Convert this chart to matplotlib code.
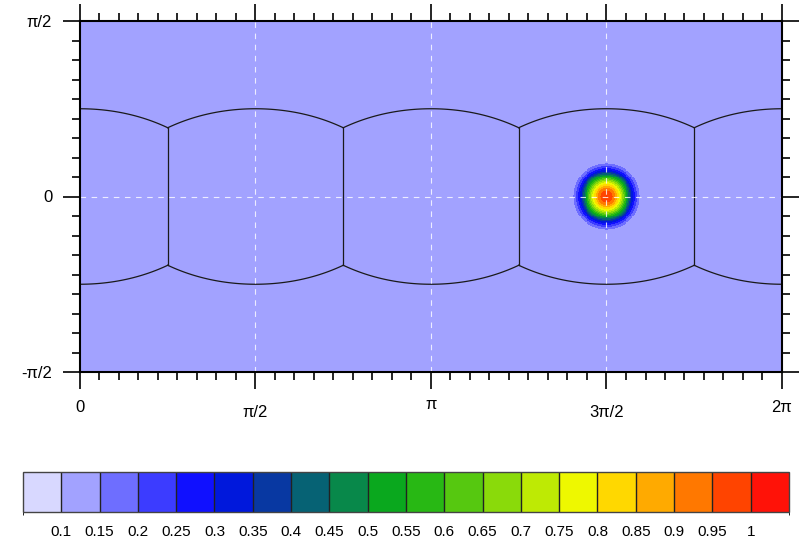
import matplotlib.pyplot as plt
import numpy as np
import matplotlib.transforms as mtransforms
from matplotlib.colors import ListedColormap, BoundaryNorm
from matplotlib.ticker import MultipleLocator

plt.rcParams['font.family'] = ['Liberation Sans', 'DejaVu Sans']

# colour levels and colours (20 bins)
bounds = np.round(np.arange(0.05, 1.051, 0.05), 2)
tick_vals = np.round(np.arange(0.1, 1.001, 0.05), 2)
tick_labels = ['0.1', '0.15', '0.2', '0.25', '0.3', '0.35', '0.4', '0.45', '0.5', '0.55',
               '0.6', '0.65', '0.7', '0.75', '0.8', '0.85', '0.9', '0.95', '1']
colors = ['#D8D8FF', '#A2A2FF', '#6E6EFF', '#3C3CFF', '#1010FF', '#0018DC', '#0838A2',
          '#066274', '#08884A', '#0AA81E', '#28B814', '#56C810', '#8ADA0A', '#BEEA04',
          '#EEF800', '#FFD800', '#FFAA00', '#FF7800', '#FF4400', '#FF1208']

# cosine bell parameters
bell_lon = 1.5 * np.pi
bell_lat = 0.0
bell_radius = 0.35
bell_base = 0.1
bell_height = 0.9

# cubed-sphere equatorial panel centres
panel_centres = [0.0, 0.5 * np.pi, np.pi, 1.5 * np.pi, 2.0 * np.pi]

lon = np.linspace(0, 2 * np.pi, 721)
lat = np.linspace(-np.pi / 2, np.pi / 2, 361)
LON, LAT = np.meshgrid(lon, lat)
cosd = (np.sin(bell_lat) * np.sin(LAT)
        + np.cos(bell_lat) * np.cos(LAT) * np.cos(LON - bell_lon))
dist = np.arccos(np.clip(cosd, -1, 1))
field = np.where(dist < bell_radius,
                 bell_base + bell_height * 0.5 * (1 + np.cos(np.pi * dist / bell_radius)),
                 bell_base)
field = np.maximum(field, bell_base + 1e-6)

cmap = ListedColormap(colors)
norm = BoundaryNorm(bounds, cmap.N)

fig = plt.figure(figsize=(8.04, 5.38), dpi=100)
ax = fig.add_axes([80 / 804, 1 - 372 / 538, 702 / 804, 351 / 538])
ax.pcolormesh(lon, lat, field, cmap=cmap, norm=norm, shading='nearest')

# cube edges
phi_c = np.arctan(1 / np.sqrt(2))
for c in panel_centres:
    l = np.linspace(c - np.pi / 4, c + np.pi / 4, 100)
    l = l[(l >= 0) & (l <= 2 * np.pi)]
    top = np.arctan(np.cos(l - c))
    ax.plot(l, top, color='#1a1a1a', lw=0.9)
    ax.plot(l, -top, color='#1a1a1a', lw=0.9)
for k in range(4):
    ax.plot([np.pi / 4 + k * np.pi / 2] * 2, [-phi_c, phi_c], color='#1a1a1a', lw=0.9)

# dashed grid
for x in [0.5 * np.pi, np.pi, 1.5 * np.pi]:
    ax.axvline(x, color='white', ls=(0, (5, 5)), lw=0.8, alpha=0.8)
ax.axhline(0, color='white', ls=(0, (5, 5)), lw=0.8, alpha=0.8)

ax.set_xlim(0, 2 * np.pi)
ax.set_ylim(-np.pi / 2, np.pi / 2)
ax.set_xticks([0, np.pi / 2, np.pi, 1.5 * np.pi, 2 * np.pi])
ax.set_xticklabels(['0', 'π/2', 'π', '3π/2', '2π'])
ax.set_yticks([-np.pi / 2, 0, np.pi / 2])
ax.set_yticklabels(['-π/2', '0', 'π/2'])
ax.xaxis.set_minor_locator(MultipleLocator(np.pi / 18))
ax.yaxis.set_minor_locator(MultipleLocator(np.pi / 18))
ax.tick_params(which='both', direction='out', top=True, right=True, width=1.2,
               labelsize=12, pad=8)
ax.tick_params(which='major', length=12)
ax.tick_params(which='minor', length=6)
for s in ax.spines.values():
    s.set_linewidth(1.5)

# NCL-style uneven baselines of the x labels
shifts = [0, -5, 3, -5, 0]
for lab, dy in zip(ax.get_xticklabels(), shifts):
    lab.set_transform(lab.get_transform()
                      + mtransforms.ScaledTranslation(0, dy / 100, fig.dpi_scale_trans))

# colorbar
cax = fig.add_axes([23 / 804, 1 - 512 / 538, 766 / 804, 40 / 538])
sm = plt.cm.ScalarMappable(cmap=cmap, norm=norm)
cb = fig.colorbar(sm, cax=cax, orientation='horizontal', drawedges=True,
                  ticks=tick_vals)
cb.set_ticklabels(tick_labels)
cb.ax.tick_params(length=0, labelsize=11, pad=9)
cb.outline.set_linewidth(1.0)
cb.outline.set_edgecolor('#444444')
cb.dividers.set_color('#222222')
cb.dividers.set_linewidth(1.0)

fig.savefig('out.png', dpi=100)
